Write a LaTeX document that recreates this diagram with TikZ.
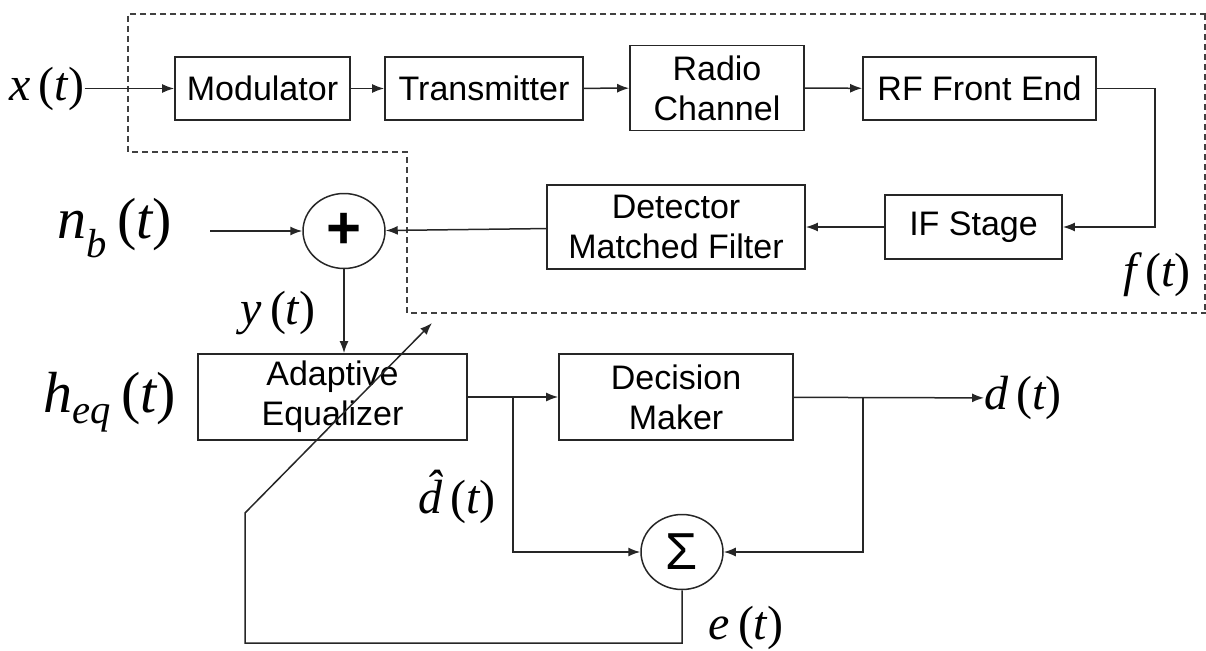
\documentclass[tikz,border=0pt]{standalone}
\usepackage{fontspec}
\setmainfont{Liberation Sans}
\newfontfamily\tms{Liberation Serif}
\usetikzlibrary{arrows.meta,shapes.geometric}
\newcommand{\ofT}[1]{{\tms\itshape #1\,}{\tms(}{\tms\itshape t}{\tms)}}

\tikzset{
  blk/.style={draw=black!85, line width=1.7pt, align=center, inner sep=0pt, font=\fontsize{34}{40}\selectfont},
  junc/.style={draw=black!85, line width=1.5pt, ellipse, inner sep=0pt, minimum width=82pt, minimum height=75pt},
  arr/.style={draw=black!85, line width=1.5pt, -{Latex[length=12pt,width=9pt]}},
  fence/.style={draw=black!75, line width=1.4pt, dash pattern=on 6pt off 4pt},
  sml/.style={font=\fontsize{48}{50}\selectfont, inner sep=0pt},
  big/.style={font=\fontsize{58}{60}\selectfont, inner sep=0pt},
}

\begin{document}
\begin{tikzpicture}[x=1pt,y=-1pt]
  \useasboundingbox (0,0) rectangle (1206,650);

  % dashed boundary of the channel part
  \draw[fence] (1206,14) -- (128,14) -- (128,152) -- (407,152) -- (407,313) -- (1206,313);
  \draw[fence] (1205,14) -- (1205,313);

  % upper chain
  \node[blk, minimum width=175pt, minimum height=63pt] (mod) at (262.5,88.5) {Modulator};
  \node[blk, minimum width=198pt, minimum height=63pt] (trans) at (484,88.5) {Transmitter};
  \node[blk, minimum width=174pt, minimum height=85pt] (radio) at (717,88) {Radio\\Channel};
  \node[blk, minimum width=233pt, minimum height=63pt] (rf) at (979.5,88.5) {RF Front End};
  \node[blk, minimum width=177pt, minimum height=64pt] (ifs) at (973.5,227) {IF Stage};
  \node[blk, minimum width=258pt, minimum height=84pt] (det) at (676,227) {Detector\\Matched Filter};
  \node[junc, font=\fontsize{60}{60}\selectfont\bfseries] (add) at (344,231) {+};

  % lower part
  \node[blk, minimum width=269pt, minimum height=86pt] (eq) at (332.5,397) {Adaptive\\Equalizer};
  \node[blk, minimum width=234pt, minimum height=86pt] (dec) at (676,397) {Decision\\Maker};
  \node[junc, font=\fontsize{52}{52}\selectfont] (sum) at (682,552) {Σ};

  % signal labels
  \node[sml] (xin) at (47,89) {\ofT{x}};
  \node[big] (nb) at (115,228) {\ofT{n\textsubscript{b}}};
  \node[sml] (yt) at (278,313) {\ofT{y}};
  \node[big] (heq) at (110,402) {\ofT{h\textsubscript{eq}}};
  \node[sml] (ft) at (1157,275) {\ofT{f}};
  \node[sml, anchor=west] (dt) at (984,398) {\ofT{d}};
  \node[sml] (dhat) at (457,497) {\ofT{\accent"02C6 d}};
  \node[sml] (et) at (746,628) {\ofT{e}};

  \coordinate (nbin) at (210,231);
  \coordinate (j1) at (513,397);
  \coordinate (j2) at (863,397);
  \coordinate (fb0) at (245,643);
  \coordinate (fb1) at (245,513);
  \coordinate (fbtip) at (432,323);

  \draw[arr] (xin.east |- mod) -- (mod);
  \draw[arr] (mod) -- (trans);
  \draw[arr] (trans) -- (radio);
  \draw[arr] (radio) -- (rf);
  \draw[arr] (rf.east) -- ++(58,0) |- (ifs.east);
  \draw[arr] (ifs) -- (det);
  \draw[arr] (det) -- (add);
  \draw[arr] (nbin) -- (add);
  \draw[arr] (add.south) -- (add.south |- eq.north);
  \draw[arr] (eq) -- (dec);
  \draw[arr] (dec) -- (dt);
  \draw[arr] (j1) |- (sum.west);
  \draw[arr] (j2) |- (sum.east);
  \draw[arr] (sum.south) |- (fb0) -- (fb1) -- (fbtip);
\end{tikzpicture}
\end{document}
